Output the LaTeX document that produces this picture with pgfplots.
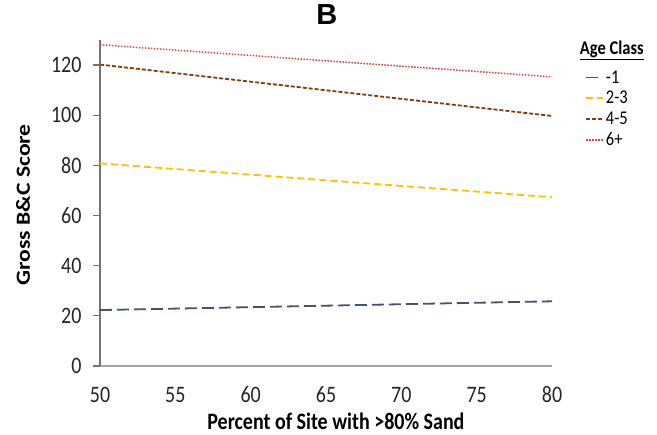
\documentclass[border=0pt]{standalone}
\usepackage{graphicx}
\usepackage{pgfplots}
\pgfplotsset{compat=1.18}
\usepackage{fontspec}
\setmainfont{Carlito}
\newfontfamily\arialfont{Liberation Sans}
\definecolor{cA}{HTML}{44546A}
\definecolor{cB}{HTML}{FFC000}
\definecolor{cC}{HTML}{843C0C}
\definecolor{cD}{HTML}{E8413C}
\newcommand{\vs}[1]{\scalebox{1}[1.18]{#1}}
\begin{document}
\begin{tikzpicture}[x=1pt,y=1pt]
\path[use as bounding box] (0,0) rectangle (657,435);
\begin{axis}[
  at={(100pt,69pt)}, anchor=south west,
  scale only axis, width=452pt, height=326pt,
  xmin=50, xmax=80, ymin=0, ymax=130,
  xtick={50,55,...,80}, ytick={0,20,...,120},
  axis x line*=bottom, axis y line*=left,
  axis line style={draw=gray!90!black, line width=1.2pt, -},
  x axis line style={draw=gray!70, line width=1.4pt},
  major tick length=7pt,
  xtick style={draw=none},
  ytick style={draw=gray!90!black, line width=1.2pt},
  tick align=outside,
  tick label style={font=\fontsize{20}{22}\selectfont, text=black!85},
  xticklabel={\vs{\pgfmathprintnumber[assume math mode=true]{\tick}}},
  yticklabel={\vs{\pgfmathprintnumber[assume math mode=true]{\tick}}},
  xticklabel style={anchor=center, yshift=-22pt},
  yticklabel style={anchor=east, xshift=-8pt},
  xlabel={\vs{\textbf{Percent of Site with >80\% Sand}}},
  ylabel={\scalebox{1.18}[1]{\textbf{Gross B\&C Score}}},
  label style={font=\fontsize{20}{22}\selectfont},
  xlabel style={at={(axis description cs:0.522,-0.196)}, anchor=base, inner sep=0pt, text depth=0pt},
  ylabel style={at={(axis description cs:-0.170,0.494)}, anchor=center},
  title={\arialfont\bfseries B},
  title style={font=\fontsize{29}{31}\selectfont, at={(axis description cs:0.502,1.060)}, anchor=center},
  legend style={at={(rel axis cs:1.073,1.0105)}, anchor=north west, draw=none, fill=none,
    font=\fontsize{16.5}{18}\selectfont, row sep=2.6pt, inner xsep=0pt},
  legend cell align=left,
  legend image code/.code={\draw[#1] (0pt,0pt) -- (17pt,0pt);},
  clip=false,
]
\addlegendimage{empty legend}
\addlegendentry{\hspace{-26pt}\raisebox{8pt}{\vs{\textbf{\underline{Age Class}}}}}
\addplot[cA, line width=1.8pt, dash pattern=on 12pt off 5pt] coordinates {(50,22.3) (80,25.8)};
\addlegendentry{\vs{-1}}
\addplot[cB, line width=1.8pt, dash pattern=on 7pt off 4pt] coordinates {(50,80.8) (80,67.3)};
\addlegendentry{\vs{2-3}}
\addplot[cC, line width=1.8pt, dash pattern=on 4pt off 2pt] coordinates {(50,120.2) (80,99.7)};
\addlegendentry{\vs{4-5}}
\addplot[cD, line width=1.5pt, dash pattern=on 1.5pt off 1.5pt] coordinates {(50,128.1) (80,115.3)};
\addlegendentry{\vs{6+}}
\end{axis}
\end{tikzpicture}
\end{document}
